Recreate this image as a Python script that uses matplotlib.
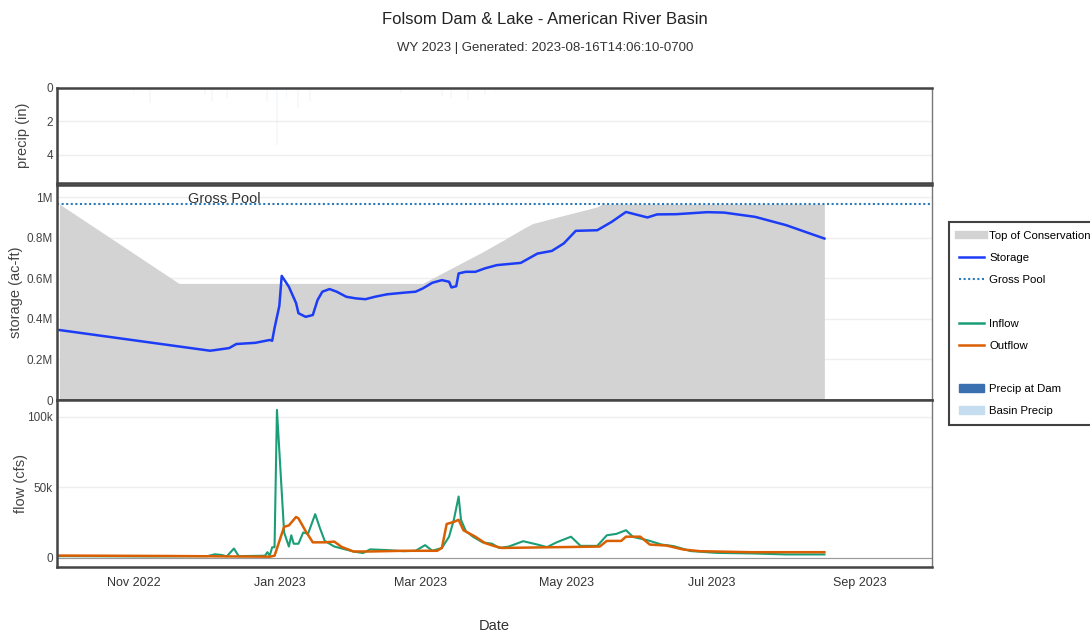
import pandas as pd
import matplotlib.pyplot as plt
import matplotlib.dates as mdates
from matplotlib.lines import Line2D
from matplotlib.patches import Patch
from matplotlib.ticker import FuncFormatter

plt.rcParams['font.family'] = ['Liberation Sans', 'DejaVu Sans']

# top of conservation (ac-ft)
toc_dates = ['2022-10-01', '2022-11-20', '2023-03-02', '2023-03-27', '2023-04-05',
             '2023-04-13', '2023-04-17', '2023-04-30', '2023-05-14', '2023-05-16',
             '2023-08-17']
toc_vals = [966000, 575000, 575000, 730000, 790000, 845000, 870000, 910000,
            952000, 966000, 966000]

gross_pool = 966000

# storage (ac-ft)
stor_dates = ['2022-10-01', '2022-12-03', '2022-12-05', '2022-12-11', '2022-12-14',
              '2022-12-22', '2022-12-28', '2022-12-29', '2022-12-30', '2023-01-01',
              '2023-01-02', '2023-01-05', '2023-01-08', '2023-01-09', '2023-01-12',
              '2023-01-15', '2023-01-17', '2023-01-19', '2023-01-22', '2023-01-25',
              '2023-01-29', '2023-02-02', '2023-02-06', '2023-02-10', '2023-02-15',
              '2023-02-22', '2023-02-27', '2023-03-02', '2023-03-06', '2023-03-10',
              '2023-03-13', '2023-03-14', '2023-03-16', '2023-03-17', '2023-03-20',
              '2023-03-24', '2023-03-28', '2023-04-02', '2023-04-12', '2023-04-19',
              '2023-04-25', '2023-04-30', '2023-05-05', '2023-05-14', '2023-05-20',
              '2023-05-26', '2023-06-04', '2023-06-08', '2023-06-16', '2023-06-29',
              '2023-07-06', '2023-07-19', '2023-08-01', '2023-08-17']
stor_vals = [345000, 243000, 246000, 256000, 276000, 282000, 296000, 292000, 355000,
             464000, 612000, 558000, 478000, 428000, 410000, 419000, 493000, 534000,
             547000, 534000, 509000, 501000, 497000, 509000, 521000, 529000, 534000,
             550000, 578000, 591000, 583000, 555000, 561000, 624000, 632000, 632000,
             649000, 665000, 676000, 722000, 735000, 772000, 834000, 837000, 878000,
             927000, 900000, 915000, 916000, 926000, 924000, 903000, 862000, 796000]

# inflow (cfs)
in_dates = ['2022-10-01', '2022-11-09', '2022-12-02', '2022-12-05', '2022-12-08',
            '2022-12-10', '2022-12-13', '2022-12-15', '2022-12-26', '2022-12-27',
            '2022-12-28', '2022-12-29', '2022-12-30', '2022-12-31', '2023-01-03',
            '2023-01-05', '2023-01-06', '2023-01-07', '2023-01-09', '2023-01-11',
            '2023-01-13', '2023-01-16', '2023-01-18', '2023-01-20', '2023-01-24',
            '2023-02-01', '2023-02-05', '2023-02-08', '2023-02-15', '2023-02-22',
            '2023-02-27', '2023-03-03', '2023-03-06', '2023-03-08', '2023-03-10',
            '2023-03-13', '2023-03-15', '2023-03-17', '2023-03-18', '2023-03-20',
            '2023-03-23', '2023-03-27', '2023-03-31', '2023-04-03', '2023-04-07',
            '2023-04-13', '2023-04-19', '2023-04-23', '2023-04-27', '2023-05-03',
            '2023-05-07', '2023-05-14', '2023-05-18', '2023-05-22', '2023-05-26',
            '2023-05-29', '2023-06-04', '2023-06-10', '2023-06-15', '2023-06-22',
            '2023-07-03', '2023-07-18', '2023-08-01', '2023-08-17']
in_vals = [1200, 1000, 1200, 2500, 2000, 1000, 6600, 1200, 1500, 4000, 1500, 7500,
           7500, 105000, 18000, 8000, 16000, 10000, 10000, 18000, 17000, 31000, 21000,
           12000, 8000, 4500, 3400, 6000, 5500, 4700, 5000, 9000, 5000, 6000, 7000,
           15000, 27000, 43500, 27000, 19000, 15000, 11000, 10000, 7000, 8000, 11800,
           9400, 7600, 11000, 15000, 8500, 8500, 16000, 17000, 19600, 14800, 12500,
           9400, 8300, 4800, 3500, 3100, 2400, 2400]

# outflow (cfs)
out_dates = ['2022-10-01', '2022-11-15', '2022-12-28', '2022-12-30', '2023-01-03',
             '2023-01-05', '2023-01-08', '2023-01-09', '2023-01-12', '2023-01-15',
             '2023-01-20', '2023-01-24', '2023-01-27', '2023-02-01', '2023-02-08',
             '2023-02-22', '2023-03-08', '2023-03-10', '2023-03-12', '2023-03-15',
             '2023-03-17', '2023-03-19', '2023-03-24', '2023-03-28', '2023-04-01',
             '2023-04-04', '2023-05-15', '2023-05-18', '2023-05-24', '2023-05-26',
             '2023-06-01', '2023-06-05', '2023-06-12', '2023-06-19', '2023-06-26',
             '2023-07-17', '2023-08-17']
out_vals = [1600, 1300, 800, 1500, 22000, 23000, 29000, 28000, 19000, 11000, 11000,
            11500, 7800, 4500, 4500, 5000, 5000, 7000, 24000, 25500, 27000, 19600,
            15000, 10500, 8300, 7000, 8000, 12000, 12000, 15000, 15000, 9400, 8700,
            5900, 4700, 4000, 4000]

# basin precip (in)
pcp_dates = ['2022-11-01', '2022-11-08', '2022-12-01', '2022-12-04', '2022-12-10',
             '2022-12-27', '2022-12-31', '2023-01-04', '2023-01-09', '2023-01-14',
             '2023-02-21', '2023-03-10', '2023-03-14', '2023-03-21', '2023-03-28',
             '2023-04-01']
pcp_vals = [0.4, 0.9, 0.4, 0.8, 0.6, 0.8, 3.4, 0.6, 1.2, 0.8, 0.3, 0.5, 0.6, 0.7,
            0.4, 0.3]

c_storage = '#1c3cf5'
c_pool = '#2b7bba'
c_in = '#1b9e77'
c_out = '#d95f02'
c_toc = '#d3d3d3'
c_dam = '#3a6fb0'
c_basin = '#c6dcef'

fig = plt.figure(figsize=(10.9, 6.39), dpi=100)
L, W = 0.0523, 0.8027
ax_p = fig.add_axes([L, 0.7136, W, 0.1487])
ax_s = fig.add_axes([L, 0.374, W, 0.3365])
ax_f = fig.add_axes([L, 0.1127, W, 0.2613])

xmin, xmax = pd.Timestamp('2022-09-30'), pd.Timestamp('2023-10-01')

ax_p.bar(pd.to_datetime(pcp_dates), pcp_vals, width=0.8, color=c_basin, alpha=0.15)
ax_p.set_ylim(5.7, 0)
ax_p.set_yticks([0, 2, 4])

ax_s.fill_between(pd.to_datetime(toc_dates), toc_vals, color=c_toc, lw=0)
ax_s.plot(pd.to_datetime(stor_dates), stor_vals, color=c_storage, lw=1.8)
ax_s.axhline(gross_pool, color=c_pool, ls=(0, (1, 1.2)), lw=1.5)
ax_s.text(pd.Timestamp('2022-12-09'), 0.99e6, 'Gross Pool', ha='center', va='center',
          fontsize=10.5, color='#333333')
ax_s.set_ylim(0, 1.06e6)
ax_s.set_yticks([0, 2e5, 4e5, 6e5, 8e5, 1e6])
ax_s.yaxis.set_major_formatter(FuncFormatter(
    lambda v, p: '0' if v == 0 else ('1M' if v == 1e6 else f'{v/1e6:.1f}M')))

ax_f.plot(pd.to_datetime(in_dates), in_vals, color=c_in, lw=1.5)
ax_f.plot(pd.to_datetime(out_dates), out_vals, color=c_out, lw=1.8)
ax_f.set_ylim(-6500, 112000)
ax_f.set_yticks([0, 50000, 100000])
ax_f.yaxis.set_major_formatter(FuncFormatter(
    lambda v, p: '0' if v == 0 else f'{v/1000:.0f}k'))
ax_f.axhline(0, color='#999999', lw=0.8)

panels = [(ax_p, 'precip (in)', -0.031), (ax_s, 'storage (ac-ft)', -0.039),
          (ax_f, 'flow (cfs)', -0.033)]
for ax, lab, lx in panels:
    ax.set_xlim(xmin, xmax)
    ax.grid(axis='y', color='#eeeeee', lw=1)
    ax.set_axisbelow(True)
    ax.tick_params(axis='y', length=0, labelsize=8.5, labelcolor='#444444', pad=3)
    ax.set_ylabel(lab, fontsize=10.5, color='#444444')
    ax.yaxis.set_label_coords(lx, 0.5)
    for side in ['top', 'bottom', 'left']:
        ax.spines[side].set_color('#444444')
        ax.spines[side].set_linewidth(1.8)
    ax.spines['right'].set_color('#777777')
    ax.spines['right'].set_linewidth(1.0)

for ax in (ax_p, ax_s):
    ax.tick_params(axis='x', length=0, labelbottom=False)

ax_f.xaxis.set_major_locator(mdates.MonthLocator(bymonth=[1, 3, 5, 7, 9, 11]))
ax_f.xaxis.set_major_formatter(mdates.DateFormatter('%b %Y'))
ax_f.tick_params(axis='x', length=0, labelsize=9, labelcolor='#333333', pad=7)
ax_f.set_xlabel('Date', fontsize=10.5, color='#333333', labelpad=22)

fig.suptitle('Folsom Dam & Lake - American River Basin', y=0.982, fontsize=12,
             color='#222222')
fig.text(0.5, 0.92, 'WY 2023 | Generated: 2023-08-16T14:06:10-0700', ha='center',
         fontsize=9.5, color='#333333')

blank = Line2D([], [], color='none')
handles = [Line2D([], [], color=c_toc, lw=6), Line2D([], [], color=c_storage, lw=1.8),
           Line2D([], [], color=c_pool, lw=1.5, ls=(0, (1, 1.2))), blank,
           Line2D([], [], color=c_in, lw=1.8), Line2D([], [], color=c_out, lw=1.8), blank,
           Patch(color=c_dam), Patch(color=c_basin)]
labels = ['Top of Conservation', 'Storage', 'Gross Pool', '', 'Inflow', 'Outflow', '',
          'Precip at Dam', 'Basin Precip']
leg = fig.legend(handles, labels, loc='upper left', bbox_to_anchor=(0.871, 0.652),
                 fontsize=8.2, frameon=True, fancybox=False, handlelength=2.2,
                 handletextpad=0.5, labelspacing=1.04, borderpad=0.8,
                 borderaxespad=0)
leg.get_frame().set_edgecolor('#111111')
leg.get_frame().set_linewidth(1.5)

fig.savefig('out.png', dpi=100)
